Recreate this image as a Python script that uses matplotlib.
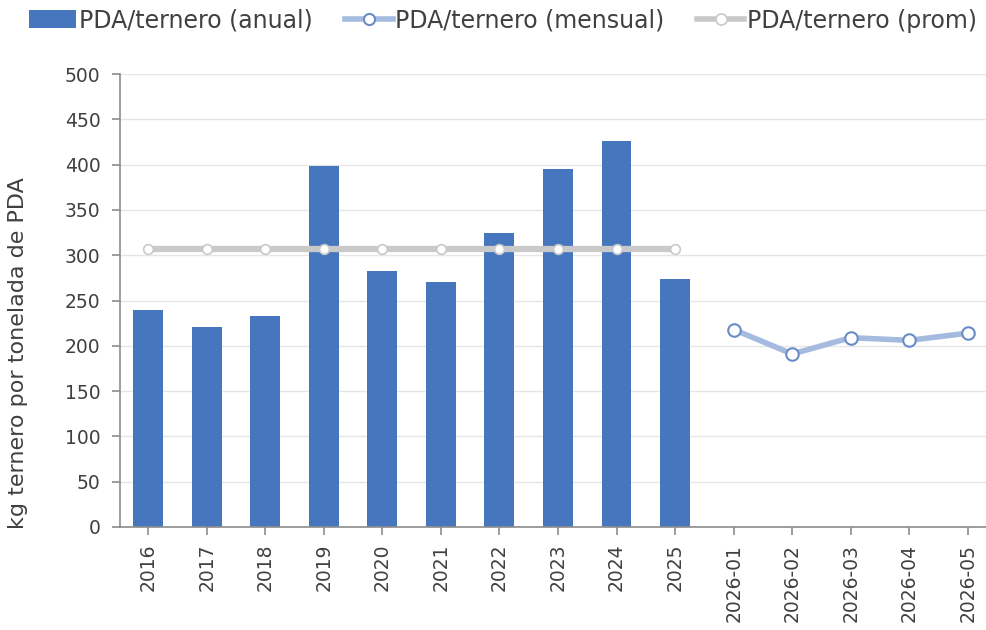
import matplotlib
matplotlib.use("Agg")
import matplotlib.pyplot as plt
from matplotlib.lines import Line2D
from matplotlib.patches import Patch

plt.rcParams['font.family'] = ['DejaVu Sans']

# Categories
years = ["2016", "2017", "2018", "2019", "2020", "2021", "2022", "2023", "2024", "2025"]
months = ["2026-01", "2026-02", "2026-03", "2026-04", "2026-05"]

# Series values (kg ternero por tonelada de PDA)
annual = [240, 221, 233, 398, 283, 270, 325, 395, 426, 274]
monthly = [218, 191, 209, 206, 214]
average = [307] * len(years)

categories = years + months
x_years = list(range(len(years)))
x_months = list(range(len(years), len(categories)))

text_color = "#404040"
bar_color = "#4676BE"
month_line = "#A4BADF"
month_edge = "#6A8CC6"
avg_color = "#C9C9C9"

fig = plt.figure(figsize=(9.86, 6.3), dpi=100)
ax = fig.add_axes([0.1217, 0.1635, 0.8783, 0.719])

ax.bar(x_years, annual, width=0.51, color=bar_color, zorder=2)
ax.plot(x_years, average, color=avg_color, lw=4.5, marker="o", ms=7,
        mfc="white", mec=avg_color, mew=1.2, zorder=3, solid_capstyle="butt")
ax.plot(x_months, monthly, color=month_line, lw=4, marker="o", ms=9,
        mfc="white", mec=month_edge, mew=1.5, zorder=3)

ax.set_ylim(0, 500)
ax.set_yticks(range(0, 501, 50))
ax.set_xlim(-0.48, 14.31)
ax.set_xticks(range(len(categories)))
ax.set_xticklabels(categories, rotation=90)

ax.grid(axis="y", color="#E6E6E6", lw=1, zorder=0)
ax.set_axisbelow(True)
for s in ["top", "right"]:
    ax.spines[s].set_visible(False)
for s in ["left", "bottom"]:
    ax.spines[s].set_color("#8C8C8C")
    ax.spines[s].set_linewidth(1.2)

ax.tick_params(axis="both", colors="#8C8C8C", labelcolor=text_color,
               labelsize=13.5, length=6, width=1.2)
ax.tick_params(axis="y", pad=8)
ax.tick_params(axis="x", pad=6)

ax.set_ylabel("kg ternero por tonelada de PDA", fontsize=16, color=text_color)
ax.yaxis.set_label_coords(-0.106, 0.385)

handles = [
    Patch(facecolor=bar_color, edgecolor="none"),
    Line2D([], [], color=month_line, lw=4, marker="o", ms=8, mfc="white",
           mec=month_edge, mew=1.5),
    Line2D([], [], color=avg_color, lw=4, marker="o", ms=8, mfc="white",
           mec=avg_color, mew=1.2),
]
labels = ["PDA/ternero (anual)", "PDA/ternero (mensual)", "PDA/ternero (prom)"]
fig.legend(handles, labels, loc="upper center", bbox_to_anchor=(0.51, 1.02),
           ncol=3, frameon=False, fontsize=17, labelcolor=text_color,
           handlelength=2.0, handletextpad=0.1, columnspacing=1.4,
           handleheight=0.8)

fig.savefig("out.png", dpi=100)
